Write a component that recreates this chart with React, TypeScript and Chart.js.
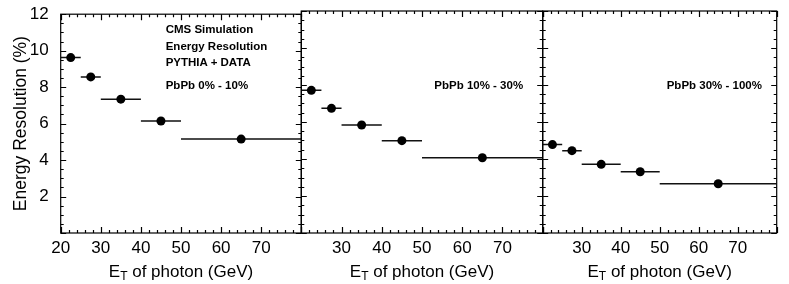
import React, { useEffect, useRef } from "react";
import { Chart, registerables } from "chart.js";

Chart.register(...registerables);

// ---------------- data ----------------
const binEdges = [20, 25, 30, 40, 50, 80];
const binCenters = [22.5, 27.5, 35, 45, 65];
const resCentral0to10 = [9.62, 8.56, 7.34, 6.14, 5.15];
const resMid10to30 = [7.71, 6.74, 5.84, 4.99, 4.07];
const resPeriph30to100 = [4.78, 4.45, 3.71, 3.31, 2.66];
const panelLabels = ["PbPb 0% - 10%", "PbPb 10% - 30%", "PbPb 30% - 100%"];
const headerLines = ["CMS Simulation", "Energy Resolution", "PYTHIA + DATA"];
const yTickValues = [2, 4, 6, 8, 10, 12];
const xTickValues = [20, 30, 40, 50, 60, 70, 80];
const yTitle = "Energy Resolution (%)";
const xTitleMain = "E";
const xTitleSub = "T";
const xTitleRest = " of photon (GeV)";

// ---------------- layout / style ----------------
const FONT = "'Liberation Sans', Arial, Helvetica, sans-serif";
const X_MIN = 20;
const X_MAX = 80;
const Y_MIN = 0;
const Y_MAX = 12;
const AREA_TOP = 11;
const AREA_BOTTOM = 233;
const PAGE_H = 284;

type PanelGeom = {
  left: number;
  right: number;
  labelLeft: number;
  showY: boolean;
};

const panelGeoms: PanelGeom[] = [
  { left: 60.7, right: 301.3, labelLeft: 165.7, showY: true },
  { left: 301.3, right: 542.7, labelLeft: 434.3, showY: false },
  { left: 542.7, right: 776.7, labelLeft: 666.7, showY: false },
];
const panelValues = [resCentral0to10, resMid10to30, resPeriph30to100];

const frameTicksPlugin = {
  id: "frameTicks",
  afterDraw(chart: any) {
    const { ctx, chartArea: a, scales } = chart;
    const xs = scales.x;
    const ys = scales.y;
    ctx.save();
    ctx.strokeStyle = "#000";
    ctx.lineWidth = 1.2;
    ctx.beginPath();
    for (let i = 0; i <= (X_MAX - X_MIN) / 2; i++) {
      const v = X_MIN + i * 2;
      const px = Math.round(xs.getPixelForValue(v)) + 0.5;
      const len = v % 10 === 0 ? 6 : 3;
      ctx.moveTo(px, a.bottom);
      ctx.lineTo(px, a.bottom - len);
      ctx.moveTo(px, a.top);
      ctx.lineTo(px, a.top + len);
    }
    for (let i = 0; i <= (Y_MAX - Y_MIN) * 2; i++) {
      const v = Y_MIN + i * 0.5;
      const py = Math.round(ys.getPixelForValue(v)) + 0.5;
      const len = i % 4 === 0 ? 5.5 : 3;
      ctx.moveTo(a.left, py);
      ctx.lineTo(a.left + len, py);
      ctx.moveTo(a.right, py);
      ctx.lineTo(a.right - len, py);
    }
    ctx.stroke();
    ctx.lineWidth = 1.2;
    ctx.strokeRect(a.left, a.top, a.right - a.left, a.bottom - a.top);
    ctx.restore();
  },
};

function PanelChart({ idx }: { idx: number }) {
  const ref = useRef<HTMLCanvasElement | null>(null);
  const g = panelGeoms[idx];
  const values = panelValues[idx];
  const canvasLeft = g.showY ? 0 : Math.floor(g.left - 10);
  const canvasRight = Math.ceil(g.right + 8);
  const width = canvasRight - canvasLeft;

  useEffect(() => {
    if (!ref.current) return;
    const errData: any[] = [];
    values.forEach((v, i) => {
      errData.push({ x: binEdges[i], y: v });
      errData.push({ x: binEdges[i + 1], y: v });
      errData.push({ x: binEdges[i + 1], y: null });
    });
    const pts = values.map((v, i) => ({ x: binCenters[i], y: v }));
    const chart = new Chart(ref.current, {
      type: "scatter",
      data: {
        datasets: [
          {
            label: panelLabels[idx],
            data: pts,
            pointRadius: 4.5,
            pointHoverRadius: 4.5,
            pointBackgroundColor: "#000",
            pointBorderColor: "#000",
            pointBorderWidth: 0,
            showLine: false,
          },
          {
            label: "bins",
            data: errData,
            showLine: true,
            spanGaps: false,
            borderColor: "#111",
            borderWidth: 1.5,
            pointRadius: 0,
            pointHoverRadius: 0,
          },
        ],
      },
      options: {
        responsive: false,
        animation: false,
        devicePixelRatio: 1,
        layout: {
          padding: {
            top: AREA_TOP,
            bottom: 0,
            left: g.showY ? 0 : g.left - canvasLeft,
            right: canvasRight - g.right,
          },
        },
        plugins: {
          legend: { display: false },
          tooltip: { enabled: false },
        },
        scales: {
          x: {
            type: "linear",
            min: X_MIN,
            max: X_MAX,
            afterBuildTicks: (s: any) => {
              s.ticks = xTickValues.map((v) => ({ value: v }));
            },
            afterFit: (s: any) => {
              s.height = PAGE_H - AREA_BOTTOM;
            },
            grid: { display: false },
            border: { display: false },
            ticks: {
              autoSkip: false,
              maxRotation: 0,
              padding: -3,
              color: "#000",
              font: { family: FONT, size: 17 },
              callback: (v: any) => {
                const n = Number(v);
                if (n === X_MAX) return "";
                if (!g.showY && n === X_MIN) return "";
                return String(n);
              },
            },
          },
          y: {
            type: "linear",
            min: Y_MIN,
            max: Y_MAX,
            display: g.showY,
            afterBuildTicks: (s: any) => {
              s.ticks = yTickValues.map((v) => ({ value: v }));
            },
            afterFit: (s: any) => {
              if (g.showY) s.width = g.left;
            },
            grid: { display: false },
            border: { display: false },
            ticks: {
              padding: 4,
              color: "#000",
              font: { family: FONT, size: 17 },
            },
            title: {
              display: g.showY,
              text: yTitle,
              color: "#000",
              font: { family: FONT, size: 17.5 },
              padding: { top: 11, bottom: 0 },
            },
          },
        },
      },
      plugins: [frameTicksPlugin],
    } as any);
    return () => chart.destroy();
  }, []);

  return (
    <canvas
      ref={ref}
      width={width}
      height={PAGE_H}
      style={{
        position: "absolute",
        left: canvasLeft,
        top: 0,
        width: width,
        height: PAGE_H,
      }}
    />
  );
}

const textBold: React.CSSProperties = {
  position: "absolute",
  fontFamily: FONT,
  fontWeight: "bold",
  fontSize: "11.5px",
  lineHeight: "14px",
  color: "#000",
  whiteSpace: "nowrap",
};

export default function App() {
  const headerY = [29, 45.7, 62.3];
  return (
    <div
      style={{
        position: "absolute",
        left: 0,
        top: 0,
        width: 789,
        height: PAGE_H,
        background: "#fff",
        overflow: "hidden",
      }}
    >
      {panelGeoms.map((_, i) => (
        <PanelChart key={i} idx={i} />
      ))}
      {headerLines.map((t, i) => (
        <div key={t} style={{ ...textBold, left: panelGeoms[0].labelLeft, top: headerY[i] - 7 }}>
          {t}
        </div>
      ))}
      {panelLabels.map((t, i) => (
        <div key={t} style={{ ...textBold, left: panelGeoms[i].labelLeft, top: 85 - 7 }}>
          {t}
        </div>
      ))}
      {panelGeoms.map((g, i) => (
        <div
          key={"xt" + i}
          style={{
            position: "absolute",
            left: g.left,
            width: g.right - g.left,
            top: 261.6,
            textAlign: "center",
            fontFamily: FONT,
            fontSize: "17px",
            lineHeight: "20px",
            color: "#000",
            whiteSpace: "nowrap",
          }}
        >
          {xTitleMain}
          <span style={{ fontSize: "12px", position: "relative", top: "3px" }}>{xTitleSub}</span>
          {xTitleRest}
        </div>
      ))}
    </div>
  );
}
